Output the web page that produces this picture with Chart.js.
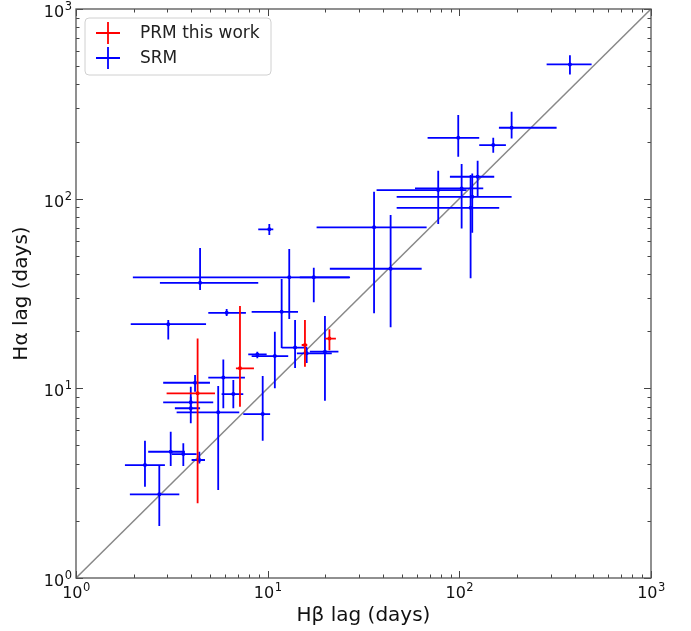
<!DOCTYPE html>
<html>
<head>
<meta charset="utf-8">
<script src="https://cdn.jsdelivr.net/npm/chart.js@4.4.0/dist/chart.umd.min.js"></script>
<style>
html,body{margin:0;padding:0;background:#fff;}
#wrap{width:691px;height:631px;position:relative;}
</style>
</head>
<body>
<div id="wrap"><canvas id="c" width="691" height="631"></canvas></div>
<script>
// ---- Data (lags in days) ----
const prmHb   = [4.31, 7.17, 15.65, 21.0];
const prmHbLo = [2.97, 6.83, 15.05, 19.9];
const prmHbHi = [5.31, 8.48, 16.09, 22.7];
const prmHa   = [9.41, 12.75, 16.92, 18.3];
const prmHaLo = [2.48, 8.0, 13.0, 15.9];
const prmHaHi = [18.34, 27.2, 22.9, 20.5];

const srmHb   = [377.6, 98.7, 150.3, 187.4, 124.6, 102.8, 77.6, 116.8, 114.5, 35.9, 43.8, 17.4, 12.96, 4.44, 10.2, 6.11, 11.83, 3.03, 13.9, 15.98, 19.9, 8.83, 10.9, 5.87, 6.62, 4.18, 3.97, 3.97, 5.52, 9.42, 3.12, 3.63, 4.40, 2.29, 2.72];
const srmHbLo = [285.4, 68.3, 127, 160.9, 89.3, 58.7, 37.0, 47.1, 47.1, 18.0, 21.1, 14.7, 1.98, 2.74, 8.93, 4.90, 8.25, 1.93, 11.83, 14.2, 16.6, 7.92, 8.25, 4.90, 5.75, 2.85, 2.85, 3.28, 3.35, 7.46, 2.38, 3.16, 4.01, 1.80, 1.91];
const srmHbHi = [489.9, 127, 175, 321.8, 152.1, 133.3, 109, 187.4, 161.5, 67.5, 63.6, 26.9, 26.6, 8.93, 10.7, 7.70, 14.4, 4.77, 16.1, 21.6, 23.4, 9.88, 12.8, 7.61, 7.46, 5.0, 5.20, 4.44, 7.11, 10.3, 3.70, 4.26, 4.71, 2.91, 3.46];
const srmHa   = [510.5, 209.4, 191.6, 236.5, 130.5, 113.3, 111, 102.3, 89.5, 70.6, 42.7, 38.5, 38.5, 36.0, 68.9, 25.0, 25.3, 21.8, 16.4, 15.3, 15.6, 15.1, 14.8, 11.4, 9.33, 10.7, 8.44, 7.85, 7.47, 7.32, 4.63, 4.50, 4.19, 3.94, 2.76];
const srmHaLo = [452, 166.3, 174.6, 207.9, 102.3, 69.7, 73.5, 66.1, 38.0, 24.9, 21.0, 28.4, 23.2, 33.0, 64.3, 24.1, 16.3, 18.1, 12.8, 13.6, 8.6, 14.4, 10.0, 7.85, 7.85, 9.6, 7.53, 6.54, 2.91, 5.30, 3.89, 3.89, 4.02, 3.03, 1.88];
const srmHaHi = [571, 275.9, 209.4, 287.1, 158.4, 152.2, 140.3, 135.9, 133.2, 108.7, 81.9, 43.2, 54.2, 54.9, 73.5, 26.2, 37.7, 22.9, 22.9, 16.3, 24.1, 15.6, 19.9, 14.2, 11.06, 11.75, 10.2, 9.03, 10.3, 11.6, 5.90, 5.13, 4.63, 5.30, 3.94];

const oneToOne = [1, 1000];
const majorTicks = [1, 10, 100, 1000];
const tickBase = '10';
const tickExponents = ['0', '1', '2', '3'];
const seriesNames = ['PRM this work', 'SRM'];
const xTitle = 'H\u03B2 lag (days)';
const yTitle = 'H\u03B1 lag (days)';

function pts(xs, ys) { return xs.map((v, i) => ({x: v, y: ys[i]})); }
function errs(xl, xh, yl, yh) { return xl.map((v, i) => ({xl: v, xh: xh[i], yl: yl[i], yh: yh[i]})); }

const FONT = 'DejaVu Sans';

const errorBarPlugin = {
  id: 'errorBars',
  afterDatasetsDraw(chart) {
    const {ctx, chartArea: a, scales: {x, y}} = chart;
    ctx.save();
    ctx.beginPath(); ctx.rect(a.left, a.top, a.right - a.left, a.bottom - a.top); ctx.clip();
    [1, 0].forEach(i => {
      const ds = chart.data.datasets[i];
      if (!ds || !ds.errors) return;
      ctx.strokeStyle = ds.borderColor;
      ctx.lineWidth = 1.8;
      ds.data.forEach((p, j) => {
        const e = ds.errors[j];
        const px = x.getPixelForValue(p.x), py = y.getPixelForValue(p.y);
        ctx.beginPath();
        ctx.moveTo(x.getPixelForValue(e.xl), py); ctx.lineTo(x.getPixelForValue(e.xh), py);
        ctx.moveTo(px, y.getPixelForValue(e.yl)); ctx.lineTo(px, y.getPixelForValue(e.yh));
        ctx.stroke();
      });
    });
    ctx.restore();
  }
};

const frameLegendPlugin = {
  id: 'frameLegend',
  afterDraw(chart) {
    const {ctx, chartArea: a, scales: {x, y}} = chart;
    ctx.save();
    // ticks (inward, all four sides)
    ctx.strokeStyle = '#444';
    ctx.lineWidth = 1;
    const minor = [];
    for (let d = 1; d < 1000; d *= 10) for (let m = 2; m <= 9; m++) minor.push(d * m);
    const drawT = (v, len) => {
      const px = Math.round(x.getPixelForValue(v)) + 0.5;
      const py = Math.round(y.getPixelForValue(v)) + 0.5;
      ctx.beginPath();
      ctx.moveTo(px, a.bottom); ctx.lineTo(px, a.bottom - len);
      ctx.moveTo(px, a.top); ctx.lineTo(px, a.top + len);
      ctx.moveTo(a.left, py); ctx.lineTo(a.left + len, py);
      ctx.moveTo(a.right, py); ctx.lineTo(a.right - len, py);
      ctx.stroke();
    };
    minor.forEach(v => drawT(v, 3.5));
    majorTicks.forEach(v => drawT(v, 7));
    // frame
    ctx.strokeStyle = '#555';
    ctx.lineWidth = 1.3;
    ctx.strokeRect(a.left, a.top, a.right - a.left, a.bottom - a.top);

    // tick labels: 10 with superscript exponent
    const baseFont = '16px "' + FONT + '"';
    const expFont = '11.5px "' + FONT + '"';
    ctx.fillStyle = '#111';
    ctx.textBaseline = 'alphabetic';
    ctx.textAlign = 'left';
    majorTicks.forEach((v, i) => {
      ctx.font = baseFont;
      const wb = ctx.measureText(tickBase).width;
      ctx.font = expFont;
      const we = ctx.measureText(tickExponents[i]).width;
      // x axis
      const px = x.getPixelForValue(v);
      const sx = px - (wb + we) / 2;
      ctx.font = baseFont;
      ctx.fillText(tickBase, sx, a.bottom + 20);
      ctx.font = expFont;
      ctx.fillText(tickExponents[i], sx + wb + 0.5, a.bottom + 13);
      // y axis
      const py = y.getPixelForValue(v);
      const ex = a.left - 4 - we;
      ctx.font = expFont;
      ctx.fillText(tickExponents[i], ex, py + 1);
      ctx.font = baseFont;
      ctx.fillText(tickBase, ex - wb - 0.5, py + 8);
    });

    // legend
    const lx = 85, ly = 18, lw = 186, lh = 57, r = 4;
    ctx.beginPath();
    ctx.moveTo(lx + r, ly);
    ctx.arcTo(lx + lw, ly, lx + lw, ly + lh, r);
    ctx.arcTo(lx + lw, ly + lh, lx, ly + lh, r);
    ctx.arcTo(lx, ly + lh, lx, ly, r);
    ctx.arcTo(lx, ly, lx + lw, ly, r);
    ctx.closePath();
    ctx.fillStyle = 'rgba(255,255,255,0.85)';
    ctx.fill();
    ctx.strokeStyle = '#d0d0d0';
    ctx.lineWidth = 1;
    ctx.stroke();
    const rows = [33, 58];
    [0, 1].forEach((i, k) => {
      const ds = chart.data.datasets[i];
      const cy = rows[k], cx = 108;
      ctx.strokeStyle = ds.borderColor;
      ctx.lineWidth = 1.8;
      ctx.beginPath();
      ctx.moveTo(cx - 12, cy); ctx.lineTo(cx + 12, cy);
      ctx.moveTo(cx, cy - 11); ctx.lineTo(cx, cy + 11);
      ctx.stroke();
      ctx.fillStyle = '#222';
      ctx.font = '17px "' + FONT + '"';
      ctx.textBaseline = 'middle';
      ctx.textAlign = 'left';
      ctx.fillText(ds.label, 140, cy + 1);
    });
    ctx.restore();
  }
};

new Chart(document.getElementById('c'), {
  type: 'scatter',
  data: {
    datasets: [
      {
        label: seriesNames[0],
        data: pts(prmHb, prmHa),
        errors: errs(prmHbLo, prmHbHi, prmHaLo, prmHaHi),
        borderColor: '#ff0000',
        backgroundColor: '#ff0000',
        pointRadius: 2,
        pointBorderWidth: 0
      },
      {
        label: seriesNames[1],
        data: pts(srmHb, srmHa),
        errors: errs(srmHbLo, srmHbHi, srmHaLo, srmHaHi),
        borderColor: '#0000ff',
        backgroundColor: '#0000ff',
        pointRadius: 2,
        pointBorderWidth: 0
      },
      {
        label: '1:1',
        data: pts(oneToOne, oneToOne),
        showLine: true,
        borderColor: '#888888',
        borderWidth: 1.5,
        pointRadius: 0,
        fill: false
      }
    ]
  },
  options: {
    responsive: false,
    animation: false,
    devicePixelRatio: 1,
    layout: { padding: { top: 9, right: 40, left: 0, bottom: 0 } },
    plugins: { legend: { display: false }, tooltip: { enabled: false } },
    scales: {
      x: {
        type: 'logarithmic',
        min: 1, max: 1000,
        position: 'bottom',
        grid: { display: false, drawTicks: false },
        border: { display: false },
        afterBuildTicks: (s) => { s.ticks = majorTicks.map(v => ({value: v})); },
        afterFit: (s) => { s.height = 53; },
        ticks: { display: false },
        title: {
          display: true, text: xTitle, color: '#111',
          font: { family: FONT, size: 20, lineHeight: 1.2 },
          padding: { top: 0, bottom: 3 }
        }
      },
      y: {
        type: 'logarithmic',
        min: 1, max: 1000,
        position: 'left',
        grid: { display: false, drawTicks: false },
        border: { display: false },
        afterBuildTicks: (s) => { s.ticks = majorTicks.map(v => ({value: v})); },
        afterFit: (s) => { s.width = 76; },
        ticks: { display: false },
        title: {
          display: true, text: yTitle, color: '#111',
          font: { family: FONT, size: 20, lineHeight: 1.2 },
          padding: { top: 10, bottom: 0 }
        }
      }
    }
  },
  plugins: [errorBarPlugin, frameLegendPlugin]
});
</script>
</body>
</html>
